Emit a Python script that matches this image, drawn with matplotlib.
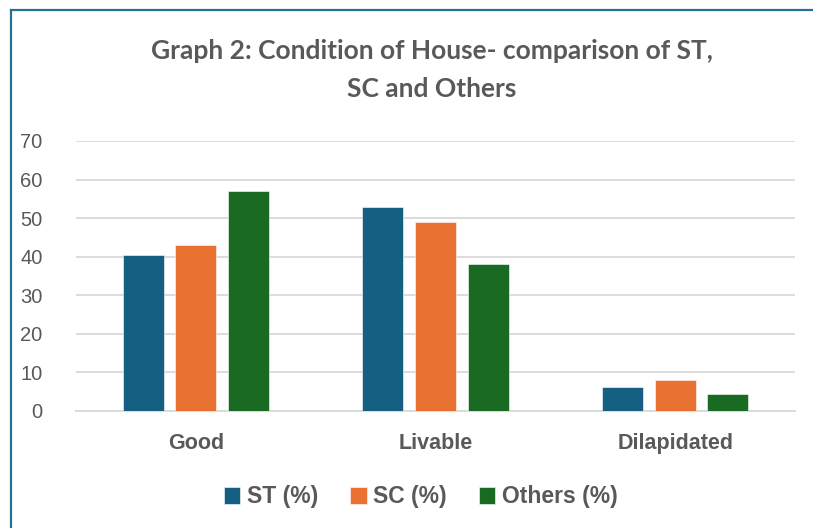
import matplotlib
matplotlib.use("Agg")
import matplotlib.pyplot as plt
import numpy as np
from matplotlib.lines import Line2D

categories = ["Good", "Livable", "Dilapidated"]
series_names = ["ST (%)", "SC (%)", "Others (%)"]
st_vals = [40.5, 53.0, 6.3]
sc_vals = [43.0, 49.0, 8.0]
others_vals = [57.1, 38.1, 4.4]
y_ticks = [0, 10, 20, 30, 40, 50, 60, 70]

colors = ["#156082", "#E97132", "#196B24"]
text_color = "#595959"

fig = plt.figure(figsize=(8.13, 5.28), dpi=100)
ax = fig.add_axes([76/813, 1-411/528, (795-76)/813, (411-141)/528])

x = np.arange(len(categories))
width = 0.171
offset = 0.22
for i, (vals, name) in enumerate(zip([st_vals, sc_vals, others_vals], series_names)):
    ax.bar(x + (i-1)*offset, vals, width, color=colors[i], label=name, zorder=3,
           edgecolor="white", linewidth=0.4)

ax.set_xlim(-0.5, 2.5)
ax.set_ylim(0, 70)
ax.set_yticks(y_ticks)
ax.set_yticklabels([str(t) for t in y_ticks], fontsize=14.5, color=text_color,
                   family=["Liberation Sans", "DejaVu Sans"])
ax.set_xticks(x)
ax.set_xticklabels(categories, fontsize=15.5, fontweight="bold", color=text_color,
                   family=["Liberation Sans", "DejaVu Sans"])
ax.tick_params(axis="y", length=0, pad=24)
ax.tick_params(axis="x", length=0, pad=16)
ax.grid(axis="y", color="#D9D9D9", linewidth=1.3, zorder=0)
for s in ["top", "right", "left"]:
    ax.spines[s].set_visible(False)
ax.spines["bottom"].set_color("#D9D9D9")
ax.spines["bottom"].set_linewidth(1.3)

fig.text(432/813, 1-51/528, "Graph 2: Condition of House- comparison of ST,",
         ha="center", va="center", fontsize=19, fontweight="bold", color=text_color,
         family=["Lato", "DejaVu Sans"])
fig.text(432/813, 1-89/528, "SC and Others",
         ha="center", va="center", fontsize=19, fontweight="bold", color=text_color,
         family=["Lato", "DejaVu Sans"])

handles, labels = ax.get_legend_handles_labels()
leg = fig.legend(handles, labels, loc="center", bbox_to_anchor=(421/813, 1-497/528),
                 ncol=3, frameon=False, handlelength=0.7, handleheight=0.7,
                 handletextpad=0.3, columnspacing=1.4,
                 prop={"size": 16.5, "weight": "bold", "family": ["Liberation Sans", "DejaVu Sans"]})
for t in leg.get_texts():
    t.set_color(text_color)

# chart border (top and left visible)
fig.add_artist(Line2D([10.5/813, 10.5/813], [0, 1-9.5/528], transform=fig.transFigure,
                      color="#2A6F97", linewidth=1.6))
fig.add_artist(Line2D([10.5/813, 1], [1-9.5/528, 1-9.5/528], transform=fig.transFigure,
                      color="#2A6F97", linewidth=1.6))

fig.savefig("out.png", dpi=100)
